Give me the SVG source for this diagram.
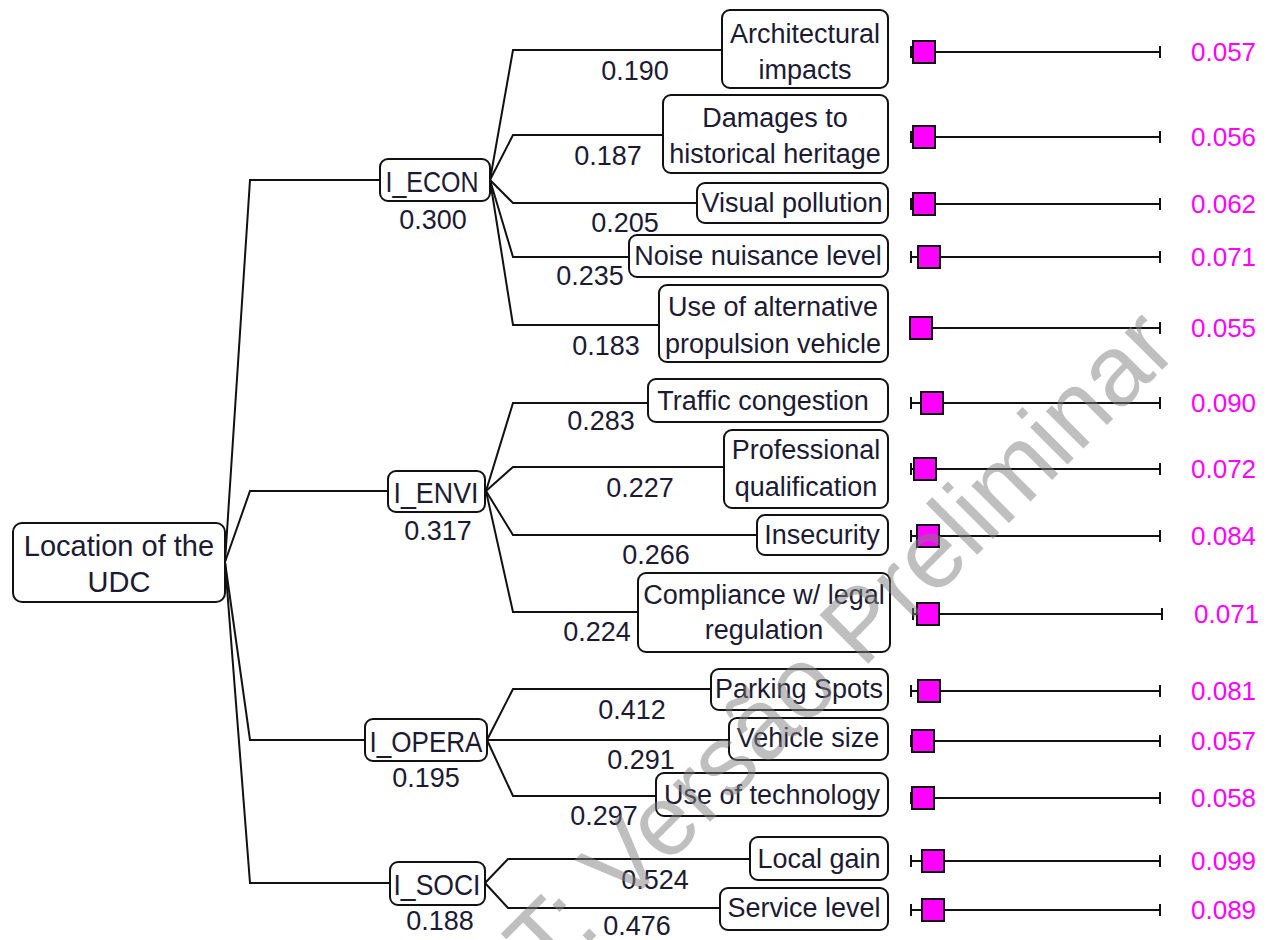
<svg xmlns="http://www.w3.org/2000/svg" width="1272" height="940" viewBox="0 0 1272 940">
<style>
.box{fill:#fff;stroke:#111;stroke-width:2}
.t{font-family:"Liberation Sans",Arial,sans-serif;font-size:27px;fill:#1c1a33;text-anchor:middle}
.r{font-size:29px}
.m{font-size:30px}
.v{font-family:"Liberation Sans",Arial,sans-serif;font-size:26px;fill:#ff00ff}
.c{fill:none;stroke:#111;stroke-width:2}
.bar{stroke:#111;stroke-width:2;fill:none}
.sq{fill:#ff00ff;stroke:#111;stroke-width:2}
.wm{font-family:"Liberation Sans",Arial,sans-serif;font-size:100px;fill:#808080;opacity:0.5}
</style>
<rect width="1272" height="940" fill="#fff"/>

<g id="connectors">
  <polyline class="c" points="225,562 250,180 380,180"/>
  <polyline class="c" points="225,562 250,491 388,491"/>
  <polyline class="c" points="225,562 250,740 365,740"/>
  <polyline class="c" points="225,562 250,883 390,883"/>
  <polyline class="c" points="490,180 513,50 722,50"/>
  <polyline class="c" points="490,180 513,135 663,135"/>
  <polyline class="c" points="490,180 513,203 697,203"/>
  <polyline class="c" points="490,180 513,257 629,257"/>
  <polyline class="c" points="490,180 513,325 659,325"/>
  <polyline class="c" points="486,491 513,403 648,403"/>
  <polyline class="c" points="486,491 513,467 724,467"/>
  <polyline class="c" points="486,491 513,535 757,535"/>
  <polyline class="c" points="486,491 513,612 638,612"/>
  <polyline class="c" points="487,740 513,689 711,689"/>
  <polyline class="c" points="487,740 729,740"/>
  <polyline class="c" points="487,740 513,796 656,796"/>
  <polyline class="c" points="485,883 508,859 750,859"/>
  <polyline class="c" points="485,883 508,908 720,908"/>
</g>

<g id="weights" class="t">
  <text x="433" y="229">0.300</text>
  <text x="438" y="540">0.317</text>
  <text x="426" y="787">0.195</text>
  <text x="440" y="930">0.188</text>
  <text x="635" y="80">0.190</text>
  <text x="608" y="165">0.187</text>
  <text x="625" y="232">0.205</text>
  <text x="590" y="285">0.235</text>
  <text x="606" y="355">0.183</text>
  <text x="601" y="430">0.283</text>
  <text x="640" y="497">0.227</text>
  <text x="656" y="564">0.266</text>
  <text x="597" y="641">0.224</text>
  <text x="632" y="719">0.412</text>
  <text x="641" y="769">0.291</text>
  <text x="604" y="825">0.297</text>
  <text x="655" y="889">0.524</text>
  <text x="637" y="935">0.476</text>
</g>

<g id="root">
  <rect class="box" x="13" y="523" width="212" height="79" rx="9"/>
  <text class="t r" x="119" y="556">Location of the</text>
  <text class="t r" x="119" y="592">UDC</text>
</g>

<g id="I_ECON">
  <rect class="box" x="380" y="159" width="110" height="42" rx="8"/>
  <text class="t m" x="432" y="192" textLength="93" lengthAdjust="spacingAndGlyphs">I_ECON</text>
</g>
<g id="I_ENVI">
  <rect class="box" x="388" y="471" width="97" height="41" rx="8"/>
  <text class="t m" x="436" y="503" textLength="85" lengthAdjust="spacingAndGlyphs">I_ENVI</text>
</g>
<g id="I_OPERA">
  <rect class="box" x="365" y="719" width="122" height="42" rx="8"/>
  <text class="t m" x="426" y="752" textLength="113" lengthAdjust="spacingAndGlyphs">I_OPERA</text>
</g>
<g id="I_SOCI">
  <rect class="box" x="390" y="862" width="95" height="43" rx="8"/>
  <text class="t m" x="437" y="895" textLength="87" lengthAdjust="spacingAndGlyphs">I_SOCI</text>
</g>

<g id="leaf_arch">
  <rect class="box" x="722" y="10" width="166" height="78" rx="8"/>
  <text class="t" x="805" y="43">Architectural</text>
  <text class="t" x="805" y="79">impacts</text>
</g>
<g id="leaf_damages">
  <rect class="box" x="663" y="95" width="225" height="78" rx="8"/>
  <text class="t" x="775" y="127">Damages to</text>
  <text class="t" x="775" y="163">historical heritage</text>
</g>
<g id="leaf_visual">
  <rect class="box" x="697" y="183" width="191" height="40" rx="8"/>
  <text class="t" x="792" y="212">Visual pollution</text>
</g>
<g id="leaf_noise">
  <rect class="box" x="629" y="235" width="259" height="42" rx="8"/>
  <text class="t" x="758" y="265">Noise nuisance level</text>
</g>
<g id="leaf_altprop">
  <rect class="box" x="659" y="285" width="229" height="77" rx="8"/>
  <text class="t" x="773" y="316">Use of alternative</text>
  <text class="t" x="773" y="353">propulsion vehicle</text>
</g>
<g id="leaf_traffic">
  <rect class="box" x="648" y="379" width="240" height="43" rx="8"/>
  <text class="t" x="763" y="410">Traffic congestion</text>
</g>
<g id="leaf_prof">
  <rect class="box" x="724" y="430" width="164" height="78" rx="8"/>
  <text class="t" x="806" y="459">Professional</text>
  <text class="t" x="806" y="496">qualification</text>
</g>
<g id="leaf_insec">
  <rect class="box" x="757" y="515" width="131" height="40" rx="8"/>
  <text class="t" x="822" y="544">Insecurity</text>
</g>
<g id="leaf_compl">
  <rect class="box" x="638" y="573" width="252" height="79" rx="8"/>
  <text class="t" x="764" y="604">Compliance w/ legal</text>
  <text class="t" x="764" y="639">regulation</text>
</g>
<g id="leaf_parking">
  <rect class="box" x="711" y="669" width="177" height="41" rx="8"/>
  <text class="t" x="799" y="698">Parking Spots</text>
</g>
<g id="leaf_vehicle">
  <rect class="box" x="729" y="718" width="159" height="42" rx="8"/>
  <text class="t" x="808" y="747">Vehicle size</text>
</g>
<g id="leaf_tech">
  <rect class="box" x="656" y="773" width="232" height="43" rx="8"/>
  <text class="t" x="772" y="804">Use of technology</text>
</g>
<g id="leaf_local">
  <rect class="box" x="750" y="837" width="138" height="43" rx="8"/>
  <text class="t" x="819" y="868">Local gain</text>
</g>
<g id="leaf_service">
  <rect class="box" x="720" y="888" width="168" height="42" rx="8"/>
  <text class="t" x="804" y="917">Service level</text>
</g>

<g id="bars">
  <path class="bar" d="M911,52H1160M911,46V58M1160,46V58"/><rect class="sq" x="913" y="41" width="22" height="22"/>
  <path class="bar" d="M911,137H1160M911,131V143M1160,131V143"/><rect class="sq" x="913" y="126" width="22" height="22"/>
  <path class="bar" d="M911,204H1160M911,198V210M1160,198V210"/><rect class="sq" x="913" y="193" width="22" height="22"/>
  <path class="bar" d="M911,257H1160M911,251V263M1160,251V263"/><rect class="sq" x="918" y="246" width="22" height="22"/>
  <path class="bar" d="M911,328H1160M1160,322V334"/><rect class="sq" x="910" y="317" width="22" height="22"/>
  <path class="bar" d="M911,403H1160M911,397V409M1160,397V409"/><rect class="sq" x="921" y="392" width="22" height="22"/>
  <path class="bar" d="M911,469H1160M911,463V475M1160,463V475"/><rect class="sq" x="914" y="458" width="22" height="22"/>
  <path class="bar" d="M911,536H1160M911,530V542M1160,530V542"/><rect class="sq" x="917" y="525" width="22" height="22"/>
  <path class="bar" d="M913,614H1162M913,608V620M1162,608V620"/><rect class="sq" x="917" y="603" width="22" height="22"/>
  <path class="bar" d="M911,691H1160M911,685V697M1160,685V697"/><rect class="sq" x="918" y="680" width="22" height="22"/>
  <path class="bar" d="M911,741H1160M911,735V747M1160,735V747"/><rect class="sq" x="912" y="730" width="22" height="22"/>
  <path class="bar" d="M911,798H1160M911,792V804M1160,792V804"/><rect class="sq" x="912" y="787" width="22" height="22"/>
  <path class="bar" d="M911,861H1160M911,855V867M1160,855V867"/><rect class="sq" x="922" y="850" width="22" height="22"/>
  <path class="bar" d="M911,910H1160M911,904V916M1160,904V916"/><rect class="sq" x="922" y="899" width="22" height="22"/>
</g>

<g id="values" class="v">
  <text x="1191" y="61">0.057</text>
  <text x="1191" y="146">0.056</text>
  <text x="1191" y="213">0.062</text>
  <text x="1191" y="266">0.071</text>
  <text x="1191" y="337">0.055</text>
  <text x="1191" y="412">0.090</text>
  <text x="1191" y="478">0.072</text>
  <text x="1191" y="545">0.084</text>
  <text x="1194" y="623">0.071</text>
  <text x="1191" y="700">0.081</text>
  <text x="1191" y="750">0.057</text>
  <text x="1191" y="807">0.058</text>
  <text x="1191" y="870">0.099</text>
  <text x="1191" y="919">0.089</text>
</g>

<text class="wm" transform="translate(548,984) rotate(-45)">T: Versão Preliminar</text>
</svg>
